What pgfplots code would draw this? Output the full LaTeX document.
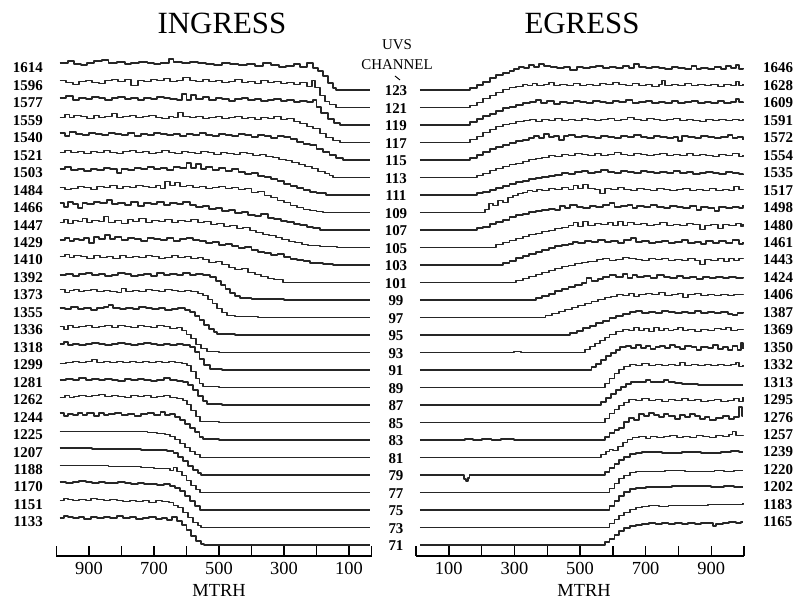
\documentclass[border=0pt]{standalone}
\usepackage{pgfplots}
\pgfplotsset{compat=1.18}
\usepackage{fontspec}
\setmainfont{Liberation Serif}
\pgfplotsset{
  tr/.style={const plot, black!85, line width=1.85pt, mark=none, line join=round, y filter/.expression={y+510-17.5*#1}},
  base/.style={scale only axis, height=516bp, ymin=44, ymax=560, hide y axis,
    axis x line*=bottom, axis line style={line width=1.4pt,-},
    tick align=inside, major tick length=10bp, tick style={black,line width=1.4pt},
    xtick={100,300,500,700,900}, xticklabels={100,300,500,700,900},
    /pgf/number format/assume math mode=true,
    xticklabel style={font=\fontsize{18.5}{18.5}\selectfont, yshift=-3bp},
    clip=false},
}
\begin{document}
\begin{tikzpicture}
\useasboundingbox (0bp,0bp) rectangle (797bp,600bp);
% ---------------- INGRESS ----------------
\begin{axis}[base, at={(56.5bp,44bp)}, anchor=south west, width=315.3bp,
  xmin=30, xmax=1000, x dir=reverse,
  extra x ticks={30,200,400,600,800,1000}, extra x tick labels={}]
\addplot[tr=0] coordinates {(990,27)(965,29)(945,26)(925,25)(905,27)(885,29)(860,30)(840,27)(815,28)(790,26)(770,27)(745,28)(720,27)(700,26)(680,27)(655,31)(640,28)(615,27)(590,28)(565,27)(540,26)(515,25)(490,27)(465,26)(440,25)(415,26)(390,24)(365,27)(340,25)(315,23)(295,24)(270,26)(250,23)(230,27)(211,22)(195,19)(180,14)(165,7)(150,2)(140,0)(35,0)};
\addplot[tr=1] coordinates {(990,27)(970,25)(950,23)(930,26)(910,27)(890,25)(870,24)(850,27)(830,28)(810,26)(790,28)(770,22)(750,27)(730,26)(710,28)(690,27)(670,29)(650,26)(630,27)(610,30)(590,27)(570,26)(550,28)(530,26)(510,27)(490,25)(470,26)(450,28)(430,25)(410,26)(390,24)(370,27)(350,25)(330,26)(310,24)(290,25)(270,23)(250,25)(230,21)(215,27)(205,20)(190,12)(175,6)(160,3)(140,0)(35,0)};
\addplot[tr=2] coordinates {(990,27)(970,29)(950,25)(930,27)(910,26)(890,28)(870,27)(850,25)(830,27)(810,28)(790,26)(770,27)(750,25)(730,27)(710,26)(690,28)(670,27)(650,26)(630,25)(615,31)(600,25)(585,30)(570,26)(550,28)(530,25)(510,27)(490,26)(470,24)(450,26)(430,27)(410,25)(390,26)(370,24)(350,25)(330,26)(310,24)(290,25)(270,23)(250,24)(230,23)(211,25)(200,18)(185,12)(165,6)(145,2)(128,0)(35,0)};
\addplot[tr=3] coordinates {(990,25)(975,28)(960,25)(945,27)(925,26)(905,24)(885,27)(870,25)(850,26)(830,29)(815,25)(795,26)(775,27)(755,25)(735,26)(715,27)(695,25)(675,24)(655,26)(640,25)(625,30)(610,26)(590,25)(570,26)(550,24)(530,25)(510,26)(490,24)(470,25)(450,26)(430,24)(410,25)(390,23)(370,25)(350,24)(330,26)(310,23)(290,24)(270,21)(250,19)(230,16)(210,14)(190,9)(170,5)(150,2)(128,0)(35,0)};
\addplot[tr=4] coordinates {(990,27)(975,24)(960,28)(940,26)(920,25)(900,27)(880,26)(860,25)(840,27)(820,26)(800,25)(780,27)(760,24)(740,26)(720,25)(700,27)(680,26)(660,25)(640,26)(620,24)(600,26)(580,25)(560,27)(540,25)(520,24)(500,26)(480,25)(460,24)(440,26)(420,25)(400,23)(380,25)(360,24)(340,22)(320,24)(300,23)(280,21)(260,18)(240,16)(220,15)(200,11)(180,8)(160,5)(140,2)(118,0)(35,0)};
\addplot[tr=5] coordinates {(990,25)(975,27)(955,25)(935,26)(915,24)(895,26)(875,25)(855,27)(835,25)(815,24)(795,26)(775,27)(755,25)(735,26)(715,24)(695,25)(675,27)(655,25)(635,24)(615,26)(595,25)(575,24)(555,26)(535,25)(515,23)(495,25)(475,24)(455,23)(435,25)(415,24)(395,22)(375,23)(355,21)(335,20)(315,18)(295,17)(275,15)(255,13)(235,11)(215,9)(195,6)(175,4)(160,2)(149,0)(35,0)};
\addplot[tr=6] coordinates {(990,26)(975,28)(955,25)(935,26)(915,24)(895,26)(875,25)(855,27)(835,26)(815,22)(800,26)(780,25)(760,27)(740,26)(720,28)(700,26)(680,27)(660,25)(640,28)(620,27)(600,32)(585,27)(570,31)(555,26)(540,28)(520,25)(500,27)(480,24)(460,26)(440,23)(420,21)(400,22)(380,19)(360,18)(340,16)(320,14)(300,11)(280,9)(260,7)(240,5)(220,3)(200,2)(170,0)(35,0)};
\addplot[tr=7] coordinates {(990,25)(975,23)(955,24)(935,26)(915,25)(895,23)(875,26)(855,25)(835,27)(815,24)(795,26)(775,25)(755,27)(735,26)(715,25)(695,27)(680,24)(665,31)(650,27)(635,30)(620,26)(600,27)(580,25)(560,26)(540,24)(520,25)(500,26)(480,24)(460,25)(440,23)(420,24)(400,20)(380,21)(360,17)(340,15)(320,12)(300,10)(280,7)(260,5)(240,3)(220,2)(200,1)(180,0)(35,0)};
\addplot[tr=8] coordinates {(990,27)(978,23)(965,28)(950,26)(935,22)(920,27)(905,26)(885,28)(865,27)(845,30)(830,26)(810,27)(790,25)(770,28)(750,24)(730,27)(710,26)(690,28)(670,25)(650,27)(630,26)(610,28)(590,25)(570,23)(550,24)(530,21)(510,22)(490,19)(470,20)(450,17)(430,18)(410,15)(390,14)(370,16)(350,12)(330,11)(310,9)(290,8)(270,6)(250,5)(230,3)(210,2)(189,0)(35,0)};
\addplot[tr=9] coordinates {(990,25)(978,28)(965,24)(950,27)(935,26)(920,29)(905,25)(890,27)(870,26)(855,31)(840,25)(820,27)(800,24)(780,28)(765,26)(745,29)(725,25)(705,27)(685,26)(665,28)(645,25)(625,27)(605,26)(585,28)(565,25)(545,26)(525,23)(505,24)(485,21)(465,22)(445,19)(425,20)(405,17)(385,15)(365,13)(345,12)(325,10)(305,8)(285,6)(265,5)(245,3)(225,2)(190,1)(137,0)(35,0)};
\addplot[tr=10] coordinates {(990,25)(975,27)(960,24)(945,26)(930,25)(915,27)(900,22)(885,28)(870,26)(850,30)(835,26)(820,28)(800,25)(780,27)(760,26)(740,24)(720,27)(700,26)(680,25)(660,27)(640,24)(620,26)(600,27)(580,25)(560,24)(540,22)(520,23)(500,20)(480,21)(460,19)(440,17)(420,18)(400,15)(380,13)(360,12)(340,10)(320,11)(300,8)(280,6)(260,5)(240,4)(220,2)(180,1)(149,0)(35,0)};
\addplot[tr=11] coordinates {(990,26)(975,28)(960,25)(945,27)(925,26)(905,24)(885,27)(865,25)(845,26)(825,24)(805,27)(785,25)(765,26)(745,25)(725,27)(705,26)(685,24)(665,25)(645,27)(625,25)(605,26)(585,24)(565,25)(549,23)(530,20)(510,21)(490,18)(470,15)(450,13)(430,14)(410,10)(390,8)(370,6)(350,4)(330,3)(303,0)(35,0)};
\addplot[tr=12] coordinates {(990,25)(970,26)(950,24)(930,26)(910,27)(890,25)(870,26)(850,24)(830,25)(810,27)(790,26)(770,24)(750,25)(730,26)(710,24)(690,27)(670,25)(650,26)(630,25)(610,27)(590,25)(570,26)(550,25)(528,23)(510,19)(495,15)(480,11)(465,7)(450,4)(435,2)(400,1)(300,0)(35,0)};
\addplot[tr=13] coordinates {(990,28)(975,25)(960,27)(945,28)(930,26)(915,27)(895,28)(875,26)(855,27)(835,26)(815,25)(800,29)(785,26)(765,27)(745,26)(725,28)(705,27)(685,26)(665,28)(645,27)(625,26)(605,27)(585,26)(565,24)(550,22)(535,18)(520,14)(505,9)(490,5)(475,2)(450,1)(380,0)(35,0)};
\addplot[tr=14] coordinates {(990,27)(975,26)(955,28)(935,26)(915,27)(895,25)(875,27)(855,28)(840,30)(825,27)(805,26)(785,27)(765,26)(745,28)(725,27)(705,26)(685,27)(665,25)(645,26)(625,27)(605,25)(590,23)(575,19)(560,15)(545,10)(530,6)(515,3)(506,1)(450,0)(35,0)};
\addplot[tr=15] coordinates {(990,26)(978,23)(965,27)(950,25)(930,26)(910,27)(890,25)(870,26)(850,27)(830,25)(810,27)(790,26)(770,25)(750,27)(730,26)(710,25)(690,27)(670,26)(650,24)(630,25)(615,22)(600,18)(585,14)(570,8)(555,4)(537,1)(500,0)(35,0)};
\addplot[tr=16] coordinates {(990,26)(978,28)(965,25)(950,26)(930,25)(910,26)(890,27)(870,26)(850,25)(830,26)(810,27)(790,26)(770,25)(750,26)(730,27)(710,26)(690,25)(670,26)(650,25)(630,26)(610,25)(590,23)(575,18)(560,11)(545,5)(528,1)(490,0)(35,0)};
\addplot[tr=17] coordinates {(990,24)(970,25)(950,26)(930,25)(910,26)(890,28)(875,25)(855,26)(835,25)(815,26)(795,25)(775,26)(755,25)(735,26)(715,25)(695,26)(675,25)(655,26)(635,25)(615,24)(598,22)(585,16)(570,9)(560,4)(549,1)(500,0)(35,0)};
\addplot[tr=18] coordinates {(990,25)(970,26)(950,25)(930,27)(910,25)(890,26)(870,25)(850,26)(830,25)(810,24)(790,26)(770,25)(750,26)(730,25)(710,24)(690,25)(670,27)(650,25)(630,24)(610,23)(595,20)(580,15)(565,9)(550,4)(537,1)(490,0)(35,0)};
\addplot[tr=19] coordinates {(990,25)(975,27)(960,25)(945,26)(930,27)(910,26)(890,27)(870,28)(850,26)(830,27)(810,26)(790,25)(770,27)(750,26)(730,27)(710,25)(690,26)(670,27)(650,25)(630,24)(610,22)(598,18)(585,12)(570,6)(558,1)(500,0)(35,0)};
\addplot[tr=20] coordinates {(990,27)(978,24)(965,26)(950,25)(935,27)(920,25)(905,27)(885,24)(870,27)(855,25)(840,26)(820,27)(800,25)(780,26)(760,24)(740,26)(720,27)(700,25)(680,28)(665,25)(650,26)(635,23)(620,20)(605,16)(590,12)(575,8)(560,3)(549,1)(500,0)(35,0)};
\addplot[tr=21] coordinates {(990,26)(950,26)(900,26)(850,26)(800,26)(760,26)(720,25)(690,24)(665,23)(650,21)(635,18)(620,14)(605,10)(590,6)(575,3)(558,0)(35,0)};
\addplot[tr=22] coordinates {(990,27)(940,27)(890,26)(840,26)(790,26)(740,25)(700,25)(660,24)(640,22)(625,18)(610,14)(595,9)(580,5)(565,2)(555,0)(35,0)};
\addplot[tr=23] coordinates {(990,27)(940,27)(890,27)(840,26)(790,26)(740,25)(700,24)(670,24)(650,22)(640,25)(630,21)(615,17)(600,12)(585,7)(570,3)(558,0)(35,0)};
\addplot[tr=24] coordinates {(990,28)(970,27)(950,28)(930,29)(910,28)(890,27)(870,28)(850,27)(830,27)(810,28)(790,27)(770,26)(750,27)(730,26)(710,26)(690,25)(670,26)(650,24)(635,22)(620,19)(605,14)(590,9)(575,4)(558,0)(35,0)};
\addplot[tr=25] coordinates {(990,27)(978,29)(965,28)(950,27)(930,28)(910,27)(895,29)(875,28)(855,27)(835,28)(815,27)(795,26)(775,27)(755,26)(735,27)(715,25)(695,27)(675,26)(655,25)(640,22)(625,20)(610,15)(595,10)(580,5)(565,2)(555,0)(35,0)};
\addplot[tr=26] coordinates {(990,27)(978,29)(965,28)(950,27)(930,28)(915,26)(895,28)(875,27)(855,28)(835,27)(815,29)(795,27)(775,28)(755,26)(735,27)(715,28)(695,26)(675,27)(660,25)(645,28)(630,24)(615,20)(600,15)(585,9)(570,4)(555,1)(545,0)(35,0)};
\end{axis}
% ---------------- EGRESS ----------------
\begin{axis}[base, at={(416bp,44bp)}, anchor=south west, width=328bp,
  xmin=0, xmax=1000,
  extra x ticks={0,200,400,600,800,1000}, extra x tick labels={}]
\addplot[tr=0] coordinates {(12,0)(146,0)(165,2)(185,5)(205,8)(225,12)(245,15)(265,17)(285,19)(300,21)(315,23)(330,22)(345,25)(360,23)(375,26)(390,24)(410,23)(430,22)(450,23)(470,20)(490,23)(510,22)(530,23)(550,24)(570,22)(590,23)(610,22)(630,24)(650,22)(665,26)(680,23)(700,22)(720,23)(740,22)(760,21)(780,23)(800,22)(820,21)(840,24)(855,21)(870,22)(890,21)(910,23)(930,21)(945,24)(960,22)(975,25)(985,21)(998,22)};
\addplot[tr=1] coordinates {(12,0)(146,0)(165,2)(185,5)(205,9)(225,12)(245,15)(265,18)(285,20)(305,21)(325,23)(340,22)(355,24)(370,22)(390,23)(405,25)(420,22)(440,23)(460,22)(480,24)(500,22)(520,23)(540,22)(560,24)(580,23)(600,25)(620,23)(640,22)(660,24)(680,22)(700,23)(720,21)(740,23)(750,27)(760,22)(780,23)(800,22)(820,24)(840,22)(860,23)(880,22)(900,23)(920,21)(940,23)(960,22)(975,26)(985,22)(998,23)};
\addplot[tr=2] coordinates {(12,0)(146,0)(165,3)(185,6)(205,9)(225,11)(245,14)(265,17)(285,18)(305,20)(325,22)(348,23)(365,25)(380,22)(400,24)(420,21)(440,23)(460,22)(480,24)(500,23)(520,22)(540,24)(560,23)(580,22)(600,24)(620,23)(640,25)(660,22)(680,23)(700,24)(720,22)(740,23)(760,22)(780,24)(800,22)(820,23)(840,24)(860,22)(880,23)(900,22)(920,24)(940,22)(960,23)(975,26)(985,23)(998,22)};
\addplot[tr=3] coordinates {(12,0)(146,0)(165,3)(185,6)(205,10)(225,13)(245,16)(265,18)(285,19)(305,21)(330,22)(348,23)(365,21)(385,23)(405,22)(425,24)(445,22)(465,23)(485,22)(505,24)(525,23)(545,22)(565,23)(585,24)(605,22)(625,23)(645,25)(665,23)(685,22)(705,24)(725,23)(745,22)(765,23)(785,24)(805,22)(825,23)(845,22)(865,21)(885,23)(905,22)(925,23)(945,22)(965,23)(985,22)(998,23)};
\addplot[tr=4] coordinates {(12,0)(146,0)(165,2)(185,5)(205,8)(225,11)(245,13)(265,15)(285,17)(305,19)(325,20)(345,22)(360,24)(375,22)(390,26)(405,23)(420,24)(435,20)(450,24)(465,25)(485,23)(505,24)(525,23)(545,22)(565,24)(585,23)(605,22)(625,24)(645,23)(665,25)(685,23)(705,22)(725,24)(745,23)(765,22)(785,23)(800,19)(812,24)(830,23)(850,22)(870,24)(890,23)(910,22)(930,23)(950,25)(965,22)(980,23)(998,20)};
\addplot[tr=5] coordinates {(12,0)(165,0)(185,2)(205,4)(225,7)(245,9)(265,11)(285,13)(305,14)(325,16)(345,18)(365,19)(385,20)(405,22)(425,21)(445,23)(465,22)(485,24)(505,23)(525,22)(545,24)(565,22)(585,23)(605,25)(625,23)(645,22)(665,24)(685,23)(705,22)(725,23)(745,24)(765,22)(785,23)(805,22)(825,24)(845,22)(865,23)(885,22)(905,21)(925,23)(945,22)(965,24)(985,21)(998,22)};
\addplot[tr=6] coordinates {(12,0)(165,0)(185,2)(205,3)(225,5)(245,7)(265,9)(285,11)(305,13)(325,14)(345,16)(365,17)(385,18)(405,19)(425,20)(445,22)(465,21)(485,23)(505,24)(525,22)(545,23)(565,25)(585,23)(605,22)(625,24)(645,23)(665,22)(685,24)(705,23)(725,22)(745,23)(765,22)(785,24)(805,22)(825,23)(845,21)(865,22)(885,23)(905,22)(925,21)(945,23)(965,22)(985,21)(998,20)};
\addplot[tr=7] coordinates {(12,0)(195,0)(210,3)(222,9)(235,7)(250,12)(265,10)(280,15)(295,17)(310,19)(325,20)(340,22)(355,21)(370,23)(385,22)(405,24)(425,23)(445,25)(465,23)(480,27)(495,24)(510,28)(525,24)(545,23)(560,19)(575,24)(595,23)(615,25)(635,23)(655,22)(675,24)(695,23)(715,22)(735,24)(755,23)(775,22)(795,23)(815,24)(835,22)(855,23)(875,22)(895,24)(915,22)(935,23)(955,22)(970,26)(985,23)(998,22)};
\addplot[tr=8] coordinates {(12,0)(186,2)(204,3)(225,6)(245,8)(265,10)(285,13)(305,15)(325,16)(345,18)(365,19)(385,20)(405,21)(425,20)(440,24)(455,22)(470,25)(491,23)(510,22)(530,24)(550,23)(570,25)(590,27)(605,23)(625,24)(645,25)(660,22)(675,24)(695,23)(715,25)(735,23)(755,22)(775,24)(795,23)(815,22)(835,24)(855,20)(870,23)(890,22)(910,19)(925,23)(945,22)(965,23)(985,22)(998,25)};
\addplot[tr=9] coordinates {(12,0)(226,0)(245,3)(265,5)(285,7)(305,9)(325,11)(345,13)(365,14)(385,16)(405,17)(425,19)(445,20)(465,22)(480,25)(495,21)(510,26)(525,22)(545,24)(565,23)(585,25)(600,22)(615,26)(630,22)(645,25)(665,23)(685,24)(705,22)(725,23)(745,25)(765,22)(785,23)(805,22)(825,24)(845,23)(865,18)(880,22)(900,23)(920,19)(935,23)(955,22)(975,24)(990,21)(998,23)};
\addplot[tr=10] coordinates {(12,0)(247,0)(265,2)(285,4)(305,7)(325,9)(345,11)(365,13)(385,15)(405,17)(425,19)(445,20)(465,21)(479,23)(495,22)(515,24)(535,23)(555,25)(575,23)(595,24)(615,22)(635,25)(655,27)(670,23)(690,24)(710,22)(730,23)(750,24)(770,22)(790,23)(810,25)(830,22)(850,23)(870,21)(885,24)(905,22)(925,24)(945,22)(965,25)(985,21)(998,23)};
\addplot[tr=11] coordinates {(12,0)(287,0)(305,2)(325,4)(345,6)(365,8)(385,10)(405,12)(425,14)(445,16)(465,17)(485,19)(505,20)(525,21)(552,23)(570,24)(590,22)(610,23)(630,25)(650,24)(670,23)(690,22)(710,24)(730,23)(750,24)(770,22)(790,23)(810,22)(830,24)(850,22)(865,18)(880,23)(900,22)(920,24)(940,21)(955,24)(970,22)(985,24)(998,23)};
\addplot[tr=12] coordinates {(12,0)(348,0)(365,2)(385,4)(405,6)(425,9)(445,11)(465,13)(485,15)(505,17)(520,22)(535,19)(555,21)(570,23)(590,25)(610,23)(630,26)(645,22)(660,25)(675,23)(695,24)(715,22)(735,25)(755,23)(775,22)(795,24)(815,22)(835,23)(855,21)(875,23)(895,22)(915,23)(935,22)(955,23)(975,22)(998,23)};
\addplot[tr=13] coordinates {(12,0)(378,0)(395,2)(415,4)(435,6)(455,8)(475,10)(495,12)(515,14)(535,16)(555,18)(575,20)(595,21)(613,23)(630,22)(650,24)(665,21)(680,23)(700,24)(720,23)(740,25)(760,22)(780,23)(800,24)(815,20)(830,23)(850,24)(870,22)(890,23)(910,22)(930,23)(950,22)(970,23)(998,22)};
\addplot[tr=14] coordinates {(12,0)(448,0)(470,2)(490,4)(510,7)(530,9)(550,12)(570,14)(590,17)(610,19)(630,21)(652,23)(670,24)(690,22)(710,23)(730,22)(750,24)(770,23)(790,22)(810,23)(830,22)(850,24)(870,22)(890,23)(910,22)(930,23)(950,21)(965,20)(980,22)(998,23)};
\addplot[tr=15] coordinates {(12,0)(300,1)(320,0)(500,0)(515,3)(530,6)(545,9)(560,12)(575,15)(590,18)(610,21)(631,23)(650,22)(665,25)(680,22)(695,24)(710,21)(725,25)(740,22)(755,24)(770,22)(785,23)(800,25)(815,22)(830,23)(850,21)(870,23)(890,22)(910,24)(930,23)(945,25)(960,22)(980,23)(998,22)};
\addplot[tr=16] coordinates {(12,0)(521,0)(535,3)(550,6)(565,10)(580,14)(595,17)(610,20)(622,23)(640,24)(655,22)(670,25)(685,22)(700,24)(715,21)(730,23)(745,24)(760,22)(775,25)(790,23)(805,21)(820,24)(840,23)(855,20)(870,23)(890,22)(905,25)(920,21)(935,23)(950,20)(965,24)(980,20)(990,27)(998,21)};
\addplot[tr=17] coordinates {(12,0)(561,0)(575,4)(590,9)(605,14)(620,18)(635,21)(652,23)(670,22)(690,24)(710,22)(730,23)(750,22)(770,23)(790,22)(805,25)(820,22)(840,23)(860,22)(880,23)(900,22)(920,23)(940,22)(960,23)(975,25)(985,21)(998,22)};
\addplot[tr=18] coordinates {(12,0)(552,0)(565,3)(580,7)(595,11)(610,15)(625,18)(640,21)(655,23)(675,23)(700,25)(715,23)(735,23)(755,25)(770,23)(790,22)(810,21)(830,21)(860,20)(900,20)(950,20)(998,20)};
\addplot[tr=19] coordinates {(12,0)(561,0)(575,4)(590,9)(605,13)(620,17)(635,20)(650,23)(670,22)(690,24)(710,22)(730,23)(750,21)(770,23)(790,22)(810,24)(830,22)(850,23)(870,21)(890,22)(910,23)(930,21)(950,22)(970,24)(985,21)(998,25)};
\addplot[tr=20] coordinates {(12,0)(150,1)(175,0)(200,1)(230,0)(260,1)(300,0)(561,0)(575,3)(590,7)(605,10)(620,12)(635,18)(650,22)(665,20)(680,26)(695,24)(710,27)(725,25)(740,23)(755,26)(770,24)(790,21)(805,25)(820,23)(835,26)(850,24)(865,21)(880,23)(895,20)(915,22)(935,24)(955,21)(970,23)(985,33)(993,24)(998,24)};
\addplot[tr=21] coordinates {(12,0)(552,0)(565,3)(580,6)(590,8)(600,7)(615,11)(630,15)(645,18)(660,20)(680,21)(700,19)(715,21)(735,20)(755,21)(775,22)(795,20)(815,21)(835,20)(855,22)(875,21)(895,20)(915,22)(935,21)(955,23)(965,26)(975,22)(998,21)};
\addplot[tr=22] coordinates {(12,0)(140,0)(146,-4)(152,-6)(158,-3)(163,0)(561,0)(575,3)(590,7)(605,11)(620,15)(635,18)(652,21)(670,22)(690,23)(720,23)(750,22)(780,22)(810,23)(840,23)(870,22)(900,22)(930,23)(960,24)(985,23)(998,23)};
\addplot[tr=23] coordinates {(12,0)(573,0)(590,4)(605,9)(620,14)(635,17)(652,20)(670,21)(700,21)(730,21)(760,22)(790,22)(820,21)(850,21)(880,21)(910,22)(940,21)(970,22)(998,22)};
\addplot[tr=24] coordinates {(12,0)(573,0)(590,4)(605,9)(620,14)(635,18)(652,21)(670,22)(700,23)(740,23)(780,24)(820,24)(860,24)(900,23)(940,24)(970,23)(998,23)};
\addplot[tr=25] coordinates {(12,0)(573,0)(590,4)(605,8)(620,12)(635,15)(652,18)(670,20)(690,21)(710,22)(740,21)(770,22)(800,22)(830,22)(860,22)(890,23)(920,23)(950,23)(980,23)(998,24)};
\addplot[tr=26] coordinates {(12,0)(561,0)(575,3)(590,6)(605,10)(620,14)(635,17)(652,19)(670,20)(690,21)(710,22)(730,21)(750,22)(770,21)(790,22)(810,21)(830,22)(850,21)(870,22)(890,22)(905,19)(915,21)(935,22)(955,23)(975,22)(990,23)(998,23)};
\end{axis}
% ---------------- text ----------------
\begin{scope}[x=1bp,y=1bp]
\node[font=\fontsize{31}{31}\selectfont] at (222,577) {INGRESS};
\node[font=\fontsize{31}{31}\selectfont] at (582,577) {EGRESS};
\node[font=\fontsize{15}{15}\selectfont] at (397,555) {UVS};
\node[font=\fontsize{15}{15}\selectfont] at (397,535) {CHANNEL};
\draw[line width=0.9pt] (395,524) -- (400,520);
\foreach \w [count=\k from 0] in {1614,1596,1577,1559,1540,1521,1503,1484,1466,1447,1429,1410,1392,1373,1355,1336,1318,1299,1281,1262,1244,1225,1207,1188,1170,1151,1133}
  \node[anchor=east, inner sep=0pt, font=\bfseries\fontsize{15}{15}\selectfont] at (43,{532-17.46*\k}) {\w};
\foreach \w [count=\k from 0] in {1646,1628,1609,1591,1572,1554,1535,1517,1498,1480,1461,1443,1424,1406,1387,1369,1350,1332,1313,1295,1276,1257,1239,1220,1202,1183,1165}
  \node[anchor=west, inner sep=0pt, font=\bfseries\fontsize{15}{15}\selectfont] at (763,{532-17.46*\k}) {\w};
\foreach \c [count=\k from 0] in {123,121,119,117,115,113,111,109,107,105,103,101,99,97,95,93,91,89,87,85,83,81,79,77,75,73,71}
  \node[inner sep=0pt, font=\bfseries\fontsize{15}{15}\selectfont] at (396,{509-17.5*\k}) {\c};
\node[font=\fontsize{18.5}{18.5}\selectfont] at (219,10) {MTRH};
\node[font=\fontsize{18.5}{18.5}\selectfont] at (584,10) {MTRH};
\end{scope}
\end{tikzpicture}
\end{document}
